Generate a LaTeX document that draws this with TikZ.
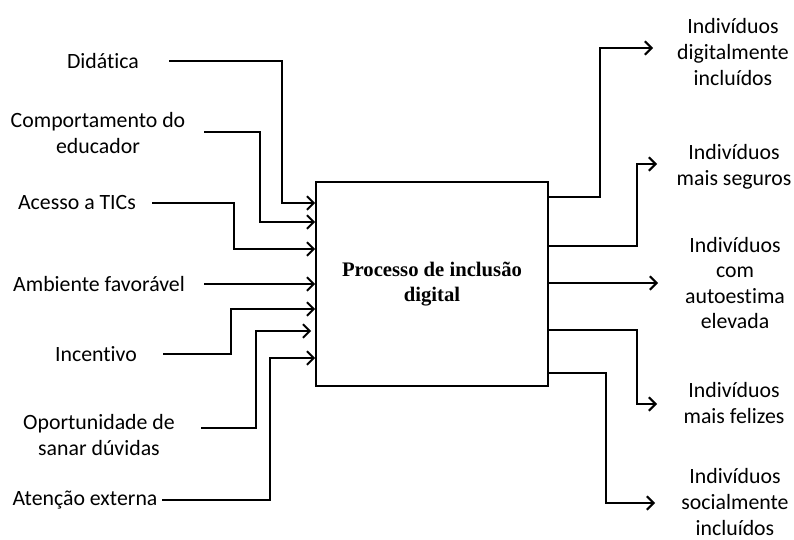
\documentclass[tikz,border=0pt]{standalone}
\usepackage{fontspec}
\setmainfont[Ligatures=NoCommon]{Carlito}
\newfontfamily\procfont{Liberation Serif}
\usetikzlibrary{arrows.meta, positioning, calc}

\begin{document}
\begin{tikzpicture}[
    x=0.025cm, y=-0.025cm,
    process/.style={rectangle, draw=black, line width=1.1pt, minimum width=5.8cm, minimum height=5.1cm, align=center, font=\procfont\bfseries\fontsize{14.7}{17.7}\selectfont},
    factor/.style={align=center, inner sep=0pt, font=\fontsize{15.5}{18.2}\selectfont},
    arrow/.style={-{Straight Barb[length=1.7mm, width=3.4mm, line width=1.4pt]}, line width=1.6pt, black}
]

\useasboundingbox (0,0) rectangle (794,539);

% Central process
\node[process] (proc) at (432,284) {Processo de inclusão\\digital};

% Input factors (left)
\node[factor] (didatica) at (103,61) {Didática};
\node[factor] (comport) at (98,133) {Comportamento do\\educador};
\node[factor] (acesso) at (77,203) {Acesso a TICs};
\node[factor] (ambiente) at (99,284) {Ambiente favorável};
\node[factor] (incentivo) at (96,354) {Incentivo};
\node[factor] (oport) at (99,435) {Oportunidade de\\sanar dúvidas};
\node[factor] (atencao) at (85,500) {Atenção externa};

% Outputs (right)
\node[factor] (digital) at (733,52) {Indivíduos\\digitalmente\\incluídos};
\node[factor] (seguros) at (734,167) {Indivíduos\\mais seguros};
\node[factor] (autoest) at (735,283) {Indivíduos\\com\\autoestima\\elevada};
\node[factor] (felizes) at (734,403) {Indivíduos\\mais felizes};
\node[factor] (social) at (735,502) {Indivíduos\\socialmente\\incluídos};

% Bend points of the input lines
\coordinate (d0) at (169,61);  \coordinate (d1) at (282,203);
\coordinate (c0) at (204,132); \coordinate (c1) at (260,222);
\coordinate (a0) at (152,203); \coordinate (a1) at (234,249);
\coordinate (f0) at (204,284);
\coordinate (i0) at (163,354); \coordinate (i1) at (231,309);
\coordinate (o0) at (201,428); \coordinate (o1) at (256,331);
\coordinate (e0) at (162,500); \coordinate (e1) at (270,358);

% Input arrows
\draw[arrow] (d0) -| (d1) -- (d1 -| proc.west);
\draw[arrow] (c0) -| (c1) -- (c1 -| proc.west);
\draw[arrow] (a0) -| (a1) -- (a1 -| proc.west);
\draw[arrow] (f0) -- (f0 -| proc.west);
\draw[arrow] (i0) -| (i1) -- (i1 -| proc.west);
\draw[arrow, shorten >=1mm] (o0) -| (o1) -- (o1 -| proc.west);
\draw[arrow] (e0) -| (e1) -- (e1 -| proc.west);

% Bend points and tips of the output lines
\coordinate (r1) at (600,197); \coordinate (t1) at (653,48);
\coordinate (r2) at (637,246); \coordinate (t2) at (657,164);
\coordinate (t3) at (658,283);
\coordinate (r4) at (637,330); \coordinate (t4) at (657,404);
\coordinate (r5) at (606,373); \coordinate (t5) at (655,503);

% Output arrows
\draw[arrow] (r1 -| proc.east) -- (r1) |- (t1);
\draw[arrow] (r2 -| proc.east) -- (r2) |- (t2);
\draw[arrow] (t3 -| proc.east) -- (t3);
\draw[arrow] (r4 -| proc.east) -- (r4) |- (t4);
\draw[arrow] (r5 -| proc.east) -- (r5) |- (t5);

\end{tikzpicture}
\end{document}
